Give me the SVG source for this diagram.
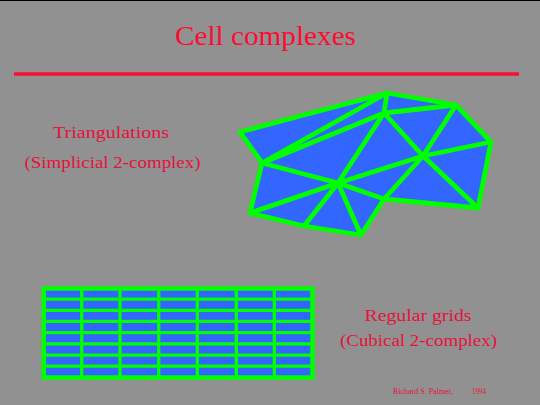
<svg xmlns="http://www.w3.org/2000/svg" width="540" height="405" viewBox="0 0 540 405">
<style>
.t{font-family:"Liberation Serif","DejaVu Serif",serif;fill:#e8103c}
.e{stroke:#00ff00;stroke-width:4.8;stroke-linecap:round;stroke-linejoin:round;fill:none}
.g{stroke:#00ff00;stroke-width:3.3;fill:none}
</style>
<rect width="540" height="405" fill="#919191"/>
<rect width="540" height="1" fill="#000"/>
<text id="title" class="t" x="265.5" y="44.5" font-size="27" text-anchor="middle" textLength="181" lengthAdjust="spacingAndGlyphs" style="fill:#ff0a30">Cell complexes</text>
<rect x="14" y="72.3" width="505" height="3.4" fill="#ff0a30"/>
<text id="lbl-tri" class="t" x="111" y="137.5" font-size="17" text-anchor="middle" textLength="116" lengthAdjust="spacingAndGlyphs">Triangulations</text>
<text id="lbl-simp" class="t" x="112.5" y="168" font-size="17" text-anchor="middle" textLength="176" lengthAdjust="spacingAndGlyphs">(Simplicial 2-complex)</text>
<text id="lbl-reg" class="t" x="418" y="320.5" font-size="17" text-anchor="middle" textLength="107" lengthAdjust="spacingAndGlyphs">Regular grids</text>
<text id="lbl-cub" class="t" x="418.5" y="345.5" font-size="17" text-anchor="middle" textLength="157" lengthAdjust="spacingAndGlyphs">(Cubical 2-complex)</text>
<text id="credit" class="t" x="393" y="394" font-size="7.5" textLength="60" lengthAdjust="spacingAndGlyphs">Richard S. Palmer,</text>
<text id="year" class="t" x="472" y="394" font-size="7.5" textLength="14" lengthAdjust="spacingAndGlyphs">1994</text>
<g id="triangulation">
<polygon points="240,132 387,93 456,105 491,142 478,208 384,199 361,235 304,226 250,213 262,163" fill="#3366ff"/>
<g id="tri-edges" class="e">
<polygon points="240,132 387,93 456,105 491,142 478,208 384,199 361,235 304,226 250,213 262,163"/>
<path d="M262,163 L387,93 M262,163 L384,113 M387,93 L384,113 M384,113 L456,105 M384,113 L338,183 M384,113 L423,156 M262,163 L338,183 M250,213 L338,183 M304,226 L338,183 M361,235 L338,183 M338,183 L384,199 M338,183 L423,156 M384,199 L423,156 M423,156 L456,105 M423,156 L491,142 M423,156 L478,208"/>
</g>
</g>
<g id="grid">
<rect x="43.8" y="288.5" width="268.7" height="89" fill="#3366ff"/>
<g class="g">
<path d="M81.7,288.5V377.5 M120,288.5V377.5 M158.7,288.5V377.5 M197.3,288.5V377.5 M236.3,288.5V377.5 M274.3,288.5V377.5"/>
<path d="M43.8,299.2H312.5 M43.8,310.3H312.5 M43.8,321.3H312.5 M43.8,332.7H312.5 M43.8,343.8H312.5 M43.8,355.2H312.5 M43.8,366.2H312.5"/>
</g>
<rect x="43.8" y="288.5" width="268.7" height="89" fill="none" stroke="#00ff00" stroke-width="4.5"/>
</g>
</svg>
